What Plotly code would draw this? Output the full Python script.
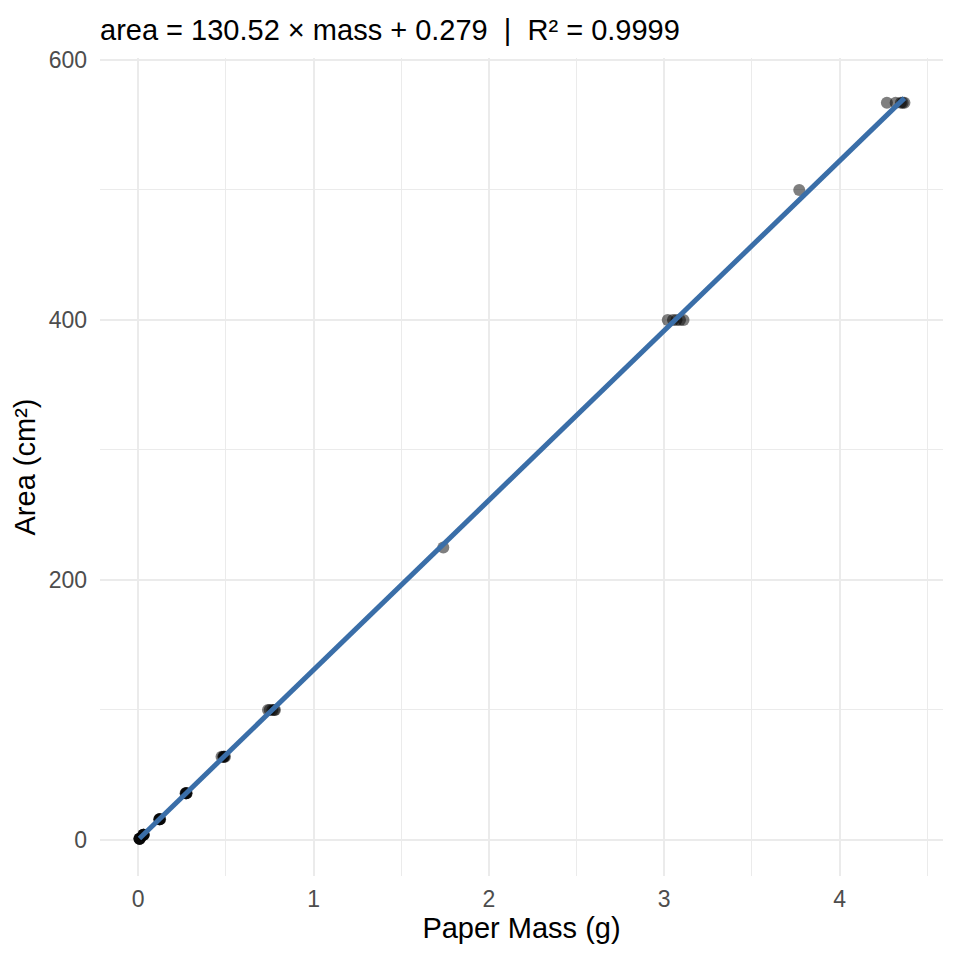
import numpy as np
import plotly.graph_objects as go

# paper squares: mass in grams vs known area in cm^2
mass_g = [0.007, 0.008, 0.009, 0.008, 0.007,
          0.029, 0.030, 0.031, 0.030, 0.031,
          0.120, 0.122, 0.125, 0.123, 0.121,
          0.270, 0.272, 0.275, 0.273, 0.276,
          0.475, 0.485, 0.490, 0.488, 0.495,
          0.740, 0.750, 0.765, 0.775, 0.780,
          1.740,
          3.020, 3.050, 3.070, 3.090, 3.110,
          3.770,
          4.270, 4.320, 4.350, 4.360, 4.370]
area_cm2 = [1, 1, 1, 1, 1,
            4, 4, 4, 4, 4,
            16, 16, 16, 16, 16,
            36, 36, 36, 36, 36,
            64, 64, 64, 64, 64,
            100, 100, 100, 100, 100,
            225,
            400, 400, 400, 400, 400,
            500,
            567, 567, 567, 567, 567]

slope = 130.52
intercept = 0.279
r_squared = 0.9999

x_ticks = [0, 1, 2, 3, 4]
y_ticks = [0, 200, 400, 600]

fit_x = np.array([min(mass_g), max(mass_g)])
fit_y = slope * fit_x + intercept

fig = go.Figure()
fig.add_trace(go.Scatter(
    x=mass_g, y=area_cm2, mode="markers",
    marker=dict(color="black", size=12, opacity=0.5, line=dict(width=0)),
    showlegend=False
))
fig.add_trace(go.Scatter(
    x=fit_x, y=fit_y, mode="lines",
    line=dict(color="#3A6EA8", width=5),
    showlegend=False
))

# the page body has an 8px margin, so everything is pulled up/left by 8
grid = "#EBEBEB"
fig.update_layout(
    width=960, height=960,
    margin=dict(l=92, r=25, t=50, b=92),
    paper_bgcolor="white", plot_bgcolor="white",
    font=dict(family="Liberation Sans, Arial, sans-serif", color="black"),
    title=dict(
        text=f"area = {slope:.2f} × mass + {intercept:.3f}  |  R² = {r_squared:.4f}",
        x=92 / 960, xanchor="left", xref="container",
        y=1 - 22 / 960, yanchor="middle", yref="container",
        font=dict(size=29, color="black"), automargin=False
    ),
    xaxis=dict(
        range=[-0.218, 4.59], tickvals=x_ticks, showline=False, zeroline=False,
        gridcolor=grid, gridwidth=2.2, automargin=False,
        minor=dict(tick0=0.5, dtick=1, showgrid=True, gridcolor=grid, gridwidth=1.1),
        tickfont=dict(size=23, color="#4D4D4D"), ticklabelstandoff=7,
        title=dict(text="Paper Mass (g)", font=dict(size=29), standoff=5)
    ),
    yaxis=dict(
        range=[-27.7, 601.5], tickvals=y_ticks, showline=False, zeroline=False,
        gridcolor=grid, gridwidth=2.2, automargin=False,
        minor=dict(tick0=100, dtick=200, showgrid=True, gridcolor=grid, gridwidth=1.1),
        tickfont=dict(size=23, color="#4D4D4D"), ticklabelstandoff=12,
        title=dict(text="Area (cm²)", font=dict(size=29), standoff=4)
    ),
)

fig.write_html("out.html")
